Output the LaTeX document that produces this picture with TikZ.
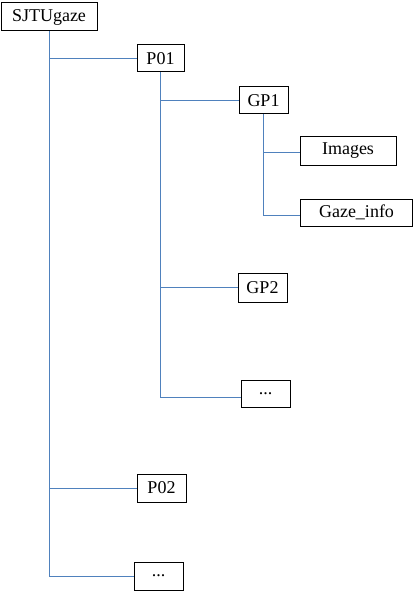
\documentclass[tikz,border=0pt]{standalone}
\usepackage{fontspec}
\setmainfont{Liberation Serif}
\definecolor{linkblue}{RGB}{79,129,189}
\begin{document}
\begin{tikzpicture}[x=1pt,y=-1pt,
  box/.style={draw=black,line width=1pt,fill=white,inner sep=0pt,anchor=center,
    font=\fontsize{18}{20}\selectfont},
  link/.style={draw=linkblue,line width=1pt}]
\useasboundingbox (0,0) rectangle (414,596);
\node[box,minimum width=96pt,minimum height=28pt] (sj) at (49,17) {SJTUgaze};
\node[box,minimum width=47pt,minimum height=27pt] (p01) at (160.5,58.5) {P01};
\node[box,minimum width=49pt,minimum height=27pt] (gp1) at (263.5,100.5) {GP1};
\node[box,minimum width=96pt,minimum height=28pt] (img) at (348,151) {Images};
\node[box,minimum width=112pt,minimum height=27pt] (gi) at (356.5,212.5) {Gaze\_info};
\node[box,minimum width=49pt,minimum height=29pt] (gp2) at (262.5,287.5) {GP2};
\node[box,minimum width=49pt,minimum height=27pt] (d1) at (265.5,393.5) {...};
\node[box,minimum width=49pt,minimum height=28pt] (p02) at (161.5,488) {P02};
\node[box,minimum width=49pt,minimum height=28pt] (d2) at (158.5,576) {...};
\coordinate (imgin) at ([yshift=-2pt]img.west);
\coordinate (giin) at ([yshift=-2.5pt]gi.west);
\coordinate (d1in) at ([yshift=-3.5pt]d1.west);
% trunks
\draw[link] (sj.south) |- (d2.west);
\draw[link] (sj.south |- p01.west) -- (p01.west);
\draw[link] (sj.south |- p02.west) -- (p02.west);
\draw[link] (p01.south) |- (d1in);
\draw[link] (p01.south |- gp1.west) -- (gp1.west);
\draw[link] (p01.south |- gp2.west) -- (gp2.west);
\draw[link] (gp1.south) |- (giin);
\draw[link] (gp1.south |- imgin) -- (imgin);
\end{tikzpicture}
\end{document}
